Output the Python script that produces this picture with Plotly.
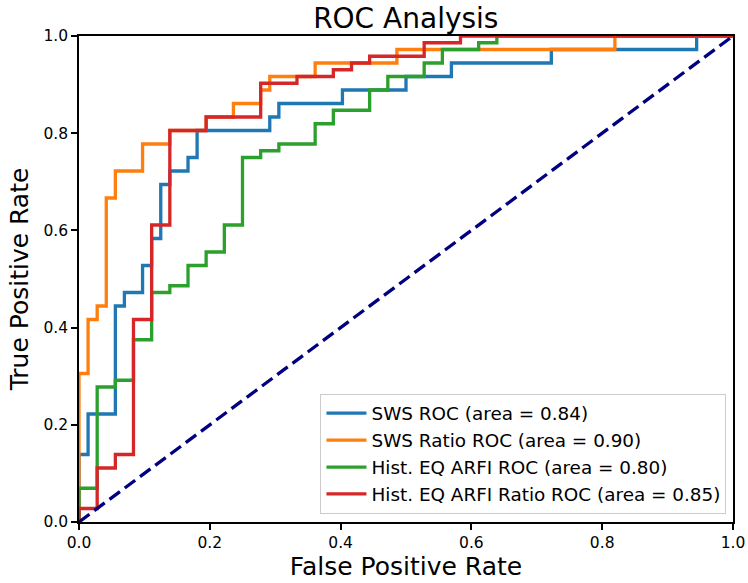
import plotly.graph_objects as go

# ---- data ----
sws_fpr = [0, 0, 0.0139, 0.0556, 0.0694, 0.0972, 0.1111, 0.125, 0.1389, 0.1667, 0.1806,
           0.2917, 0.3056, 0.4028, 0.5, 0.5694, 0.7222, 0.9444, 1.0]
sws_tpr = [0, 0.1389, 0.2222, 0.4444, 0.4722, 0.5278, 0.5833, 0.6944, 0.7222, 0.75, 0.8056,
           0.8333, 0.8611, 0.8889, 0.9167, 0.9444, 0.9722, 1.0, 1.0]

ratio_fpr = [0, 0, 0.0139, 0.0278, 0.0417, 0.0556, 0.0972, 0.1389, 0.1944, 0.2361, 0.2778,
             0.2917, 0.3611, 0.4861, 0.8194, 1.0]
ratio_tpr = [0, 0.3056, 0.4167, 0.4444, 0.6667, 0.7222, 0.7778, 0.8056, 0.8333, 0.8611, 0.8889,
             0.9167, 0.9444, 0.9722, 1.0, 1.0]

heq_fpr = [0, 0, 0.0278, 0.0556, 0.0833, 0.1111, 0.1389, 0.1667, 0.1944, 0.2222, 0.25,
           0.2778, 0.3056, 0.3611, 0.3889, 0.4444, 0.4722, 0.5278, 0.5556, 0.6111, 0.6389, 1.0]
heq_tpr = [0, 0.0694, 0.2778, 0.2917, 0.375, 0.4722, 0.4861, 0.5278, 0.5556, 0.6111, 0.75,
           0.7639, 0.7778, 0.8194, 0.8472, 0.8889, 0.9167, 0.9444, 0.9722, 0.9861, 1.0, 1.0]

heqr_fpr = [0, 0, 0.0278, 0.0556, 0.0833, 0.1111, 0.1389, 0.1944, 0.2778, 0.3333, 0.3889,
            0.4167, 0.4444, 0.5278, 0.5833, 1.0]
heqr_tpr = [0, 0.0278, 0.1111, 0.1389, 0.4167, 0.6111, 0.8056, 0.8333, 0.9028, 0.9167, 0.9306,
            0.9444, 0.9583, 0.9861, 1.0, 1.0]

series_names = ["SWS ROC (area = 0.84)", "SWS Ratio ROC (area = 0.90)",
                "Hist. EQ ARFI ROC (area = 0.80)", "Hist. EQ ARFI Ratio ROC (area = 0.85)"]
series_colors = ["#1f77b4", "#ff7f0e", "#2ca02c", "#d62728"]
chance_x = [0, 1]
chance_y = [0, 1]
tick_vals = [0, 0.2, 0.4, 0.6, 0.8, 1.0]
tick_text = ["0.0", "0.2", "0.4", "0.6", "0.8", "1.0"]

FONT = "DejaVu Sans, Liberation Sans, sans-serif"

fig = go.Figure()
for xs, ys, name, col in zip([sws_fpr, ratio_fpr, heq_fpr, heqr_fpr],
                             [sws_tpr, ratio_tpr, heq_tpr, heqr_tpr],
                             series_names, series_colors):
    fig.add_trace(go.Scatter(x=xs, y=ys, mode="lines", name=name,
                             line=dict(color=col, width=3.3, shape="hv")))

fig.add_trace(go.Scatter(x=chance_x, y=chance_y, mode="lines", showlegend=False,
                         line=dict(color="#000080", width=3.3, dash="13px,6px")))

axis_common = dict(
    range=[0, 1], tickvals=tick_vals, ticktext=tick_text, automargin=False,
    showgrid=False, zeroline=False, showline=True, linecolor="black", linewidth=1.5,
    mirror=True, ticks="outside", ticklen=6, tickwidth=1.5, tickcolor="black",
    tickfont=dict(family=FONT, size=15.5, color="black"),
)

fig.update_layout(
    width=748, height=583,
    margin=dict(l=79, r=15, t=36, b=61),
    paper_bgcolor="white", plot_bgcolor="white",
    font=dict(family=FONT, color="black"),
    title=dict(text="ROC Analysis", x=0.5425, xanchor="center", xref="container",
               y=0.969, yanchor="middle", yref="container", automargin=False,
               font=dict(family=FONT, size=28, color="black")),
    xaxis=dict(**axis_common,
               title=dict(text="False Positive Rate", standoff=6,
                          font=dict(family=FONT, size=25, color="black"))),
    yaxis=dict(**axis_common,
               title=dict(text="True Positive Rate", standoff=8,
                          font=dict(family=FONT, size=25, color="black"))),
    legend=dict(x=0.99, y=0.017, xanchor="right", yanchor="bottom",
                bgcolor="rgba(255,255,255,0.8)", bordercolor="#cccccc", borderwidth=1,
                font=dict(family=FONT, size=18.4, color="black"),
                tracegroupgap=0, itemwidth=40),
    showlegend=True,
)

# remove the browser's default 8px body margin so the figure fills the window
fig.write_html("out.html",
               config={"displayModeBar": False},
               post_script="document.body.style.margin='0px';document.body.style.padding='0px';")
